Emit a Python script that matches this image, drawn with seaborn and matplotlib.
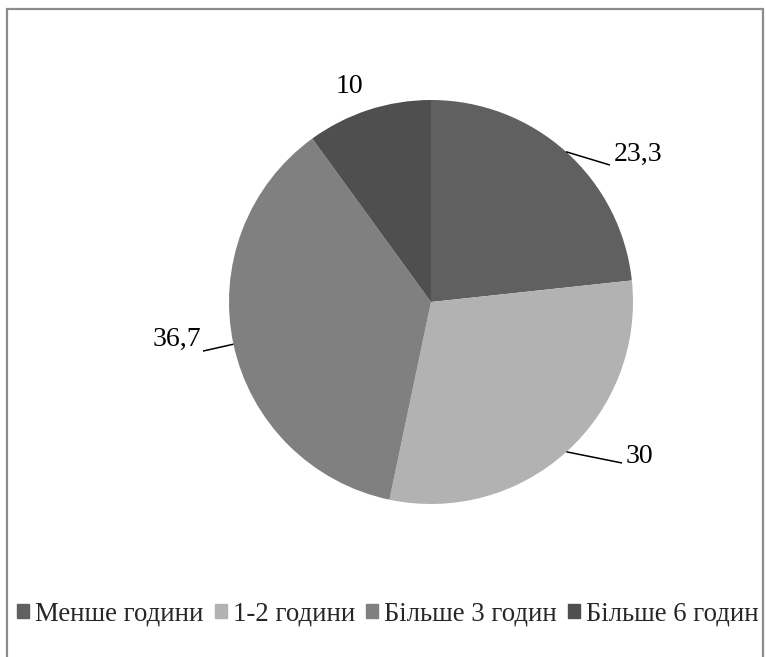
import matplotlib
matplotlib.use("Agg")
import matplotlib.pyplot as plt
from matplotlib.patches import Rectangle
import numpy as np
import seaborn as sns

# Time spent per day: share of respondents, %
categories = ["Менше години", "1-2 години", "Більше 3 годин", "Більше 6 годин"]
values = [23.3, 30, 36.7, 10]
value_labels = ["23,3", "30", "36,7", "10"]

sns.set_theme(style="white")
plt.rcParams["font.family"] = ["Liberation Serif", "DejaVu Serif"]

palette = sns.color_palette(["#606060", "#b2b2b2", "#808080", "#4f4f4f"])

W, H = 766, 657
fig = plt.figure(figsize=(W / 100, H / 100), dpi=100)

cx, cy, r = 431, 302, 202
ax = fig.add_axes([(cx - r) / W, (H - cy - r) / H, 2 * r / W, 2 * r / H])
wedges, _ = ax.pie(values, colors=palette, startangle=90, counterclock=False,
                   radius=1, wedgeprops=dict(linewidth=0))
ax.set_xlim(-1, 1)
ax.set_ylim(-1, 1)
ax.set_aspect("equal")
ax.axis("off")

# leader line end (None = no leader) and text anchor, in pie-radius units
leader_ends = [(0.886, 0.678), (0.946, -0.797), (-1.129, -0.243), None]
text_pos = [(0.906, 0.733, "left"), (0.965, -0.765, "left"),
            (-1.140, -0.185, "right"), (-0.405, 1.068, "center")]

for w, lbl, end, (tx, ty, ha) in zip(wedges, value_labels, leader_ends, text_pos):
    mid = np.deg2rad((w.theta1 + w.theta2) / 2)
    ex, ey = np.cos(mid), np.sin(mid)
    if end is not None:
        ax.plot([ex, end[0]], [ey, end[1]], color="black", lw=1.1,
                clip_on=False, solid_capstyle="butt")
    ax.text(tx, ty, lbl, ha=ha, va="center", fontsize=20, color="black",
            clip_on=False)

handles = [Rectangle((0, 0), 1, 1, color=c) for c in palette]
leg = fig.legend(handles, categories, loc="center left",
                 bbox_to_anchor=(17 / W, 1 - 614 / H), ncol=4, frameon=False,
                 fontsize=19.3, handlelength=0.45, handleheight=0.45,
                 handletextpad=0.22, columnspacing=0.42, borderaxespad=0,
                 borderpad=0)

# chart frame (bottom edge falls outside the canvas)
fig.patches.append(Rectangle((6.5 / W, -0.05), (763 - 6.5) / W, 1.05 - 8.5 / H,
                             transform=fig.transFigure, fill=False,
                             edgecolor="#8c8c8c", linewidth=1.6))

fig.savefig("out.png", dpi=100)
